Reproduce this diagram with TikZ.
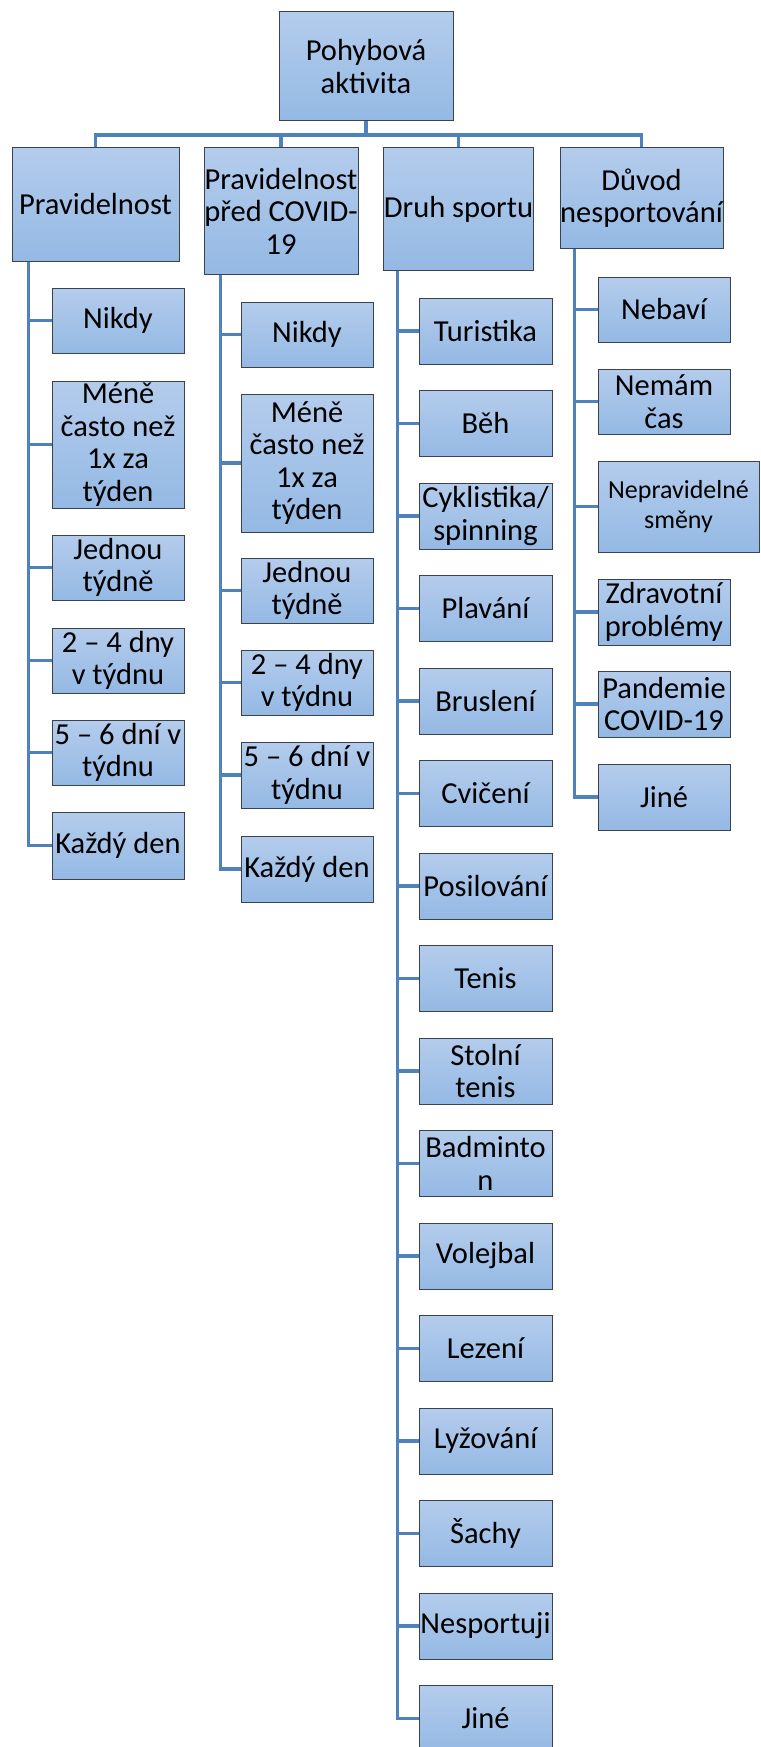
\documentclass[tikz,border=0pt]{standalone}
\usepackage{fontspec}
\setmainfont{Carlito}
\definecolor{conncol}{RGB}{79,129,189}
\definecolor{boxtop}{RGB}{180,204,236}
\definecolor{boxbot}{RGB}{148,185,228}
\definecolor{boxline}{RGB}{58,66,78}
\tikzset{
  box/.style={draw=boxline, line width=1pt, top color=boxtop, bottom color=boxbot,
    inner sep=0pt, align=center, text=black, font=\fontsize{30.5}{32.5}\selectfont},
  conn/.style={draw=conncol, line width=3.4pt},
}
\newcommand\mybox[7][]{%
  \pgfmathsetmacro\bcx{(#3+#5)/2}\pgfmathsetmacro\bcy{(#4+#6)/2}%
  \pgfmathsetmacro\bw{#5-#3}\pgfmathsetmacro\bh{#6-#4}%
  \node[box,#1,minimum width=\bw pt,minimum height=\bh pt] (#2) at (\bcx,\bcy) {#7};}
\begin{document}
\begin{tikzpicture}[x=1pt,y=-1pt]
\useasboundingbox (0,0) rectangle (760,1747);
% root and level 1
\mybox{root}{279}{12}{453}{121}{Pohybová\\aktivita}
\mybox{pa}{12}{148}{179}{261}{Pravidelnost}
\mybox{pb}{204}{148}{358}{274}{Pravidelnost\\před COVID-\\19}
\mybox{pc}{384}{148}{533}{270}{Druh sportu}
\mybox{pd}{560}{148}{723}{248}{Důvod\\nesportování}
\coordinate (bus) at (366,135);
\draw[conn] (root.south) -- (bus);
\draw[conn] (bus) -| (pa.north);
\draw[conn] (bus) -| (pb.north);
\draw[conn] (bus) -| (pc.north);
\draw[conn] (bus) -| (pd.north);
% column a
\mybox{a1}{52}{288}{184}{353}{Nikdy}
\mybox{a2}{52}{381}{184}{508}{Méně\\často než\\1x za\\týden}
\mybox{a3}{52}{535}{184}{600}{Jednou\\týdně}
\mybox{a4}{52}{628}{184}{693}{2 – 4 dny\\v týdnu}
\mybox{a5}{52}{720}{184}{785}{5 – 6 dní v\\týdnu}
\mybox{a6}{52}{812}{184}{879}{Každý den}
\foreach \k in {1,...,6}{\draw[conn] ([xshift=17pt]pa.south west) |- (a\k.west);}
% column b
\mybox{b1}{241}{302}{373}{367}{Nikdy}
\mybox{b2}{241}{394}{373}{532}{Méně\\často než\\1x za\\týden}
\mybox{b3}{241}{558}{373}{623}{Jednou\\týdně}
\mybox{b4}{241}{650}{373}{715}{2 – 4 dny\\v týdnu}
\mybox{b5}{241}{742}{373}{808}{5 – 6 dní v\\týdnu}
\mybox{b6}{241}{836}{373}{902}{Každý den}
\foreach \k in {1,...,6}{\draw[conn] ([xshift=17pt]pb.south west) |- (b\k.west);}
% column c
\foreach \t [count=\i from 0] in {Turistika,Běh,{Cyklistika/\\spinning},Plavání,Bruslení,Cvičení,Posilování,Tenis,{Stolní\\tenis},{Badminto\\n},Volejbal,Lezení,Lyžování,Šachy,Nesportuji,Jiné}{
  \pgfmathsetmacro\ctop{298+92.5*\i}
  \pgfmathsetmacro\cbot{\ctop+66}
  \mybox{c\i}{419}{\ctop}{552}{\cbot}{\t}
  \draw[conn] ([xshift=14pt]pc.south west) |- (c\i.west);
}
% column d
\mybox{d1}{598}{277}{730}{342}{Nebaví}
\mybox{d2}{598}{369}{730}{434}{Nemám\\čas}
\mybox[font=\fontsize{26}{30}\selectfont]{d3}{598}{461}{759}{552}{Nepravidelné\\směny}
\mybox{d4}{598}{579}{730}{645}{Zdravotní\\problémy}
\mybox{d5}{598}{671}{730}{737}{Pandemie\\COVID-19}
\mybox{d6}{598}{764}{730}{830}{Jiné}
\foreach \k in {1,...,6}{\draw[conn] ([xshift=15pt]pd.south west) |- (d\k.west);}
\end{tikzpicture}
\end{document}
